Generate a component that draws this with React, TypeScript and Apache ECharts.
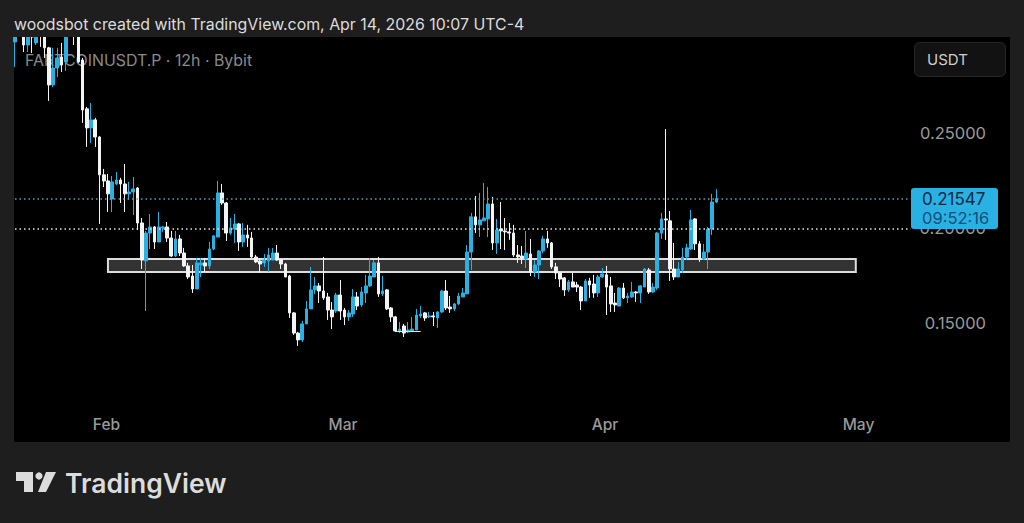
import React, { useRef, useEffect } from 'react'
import * as echarts from 'echarts'

// 12h candles, first one on 21 Jan
const opens = [
  0.2979, 0.303, 0.3016, 0.2963, 0.3016, 0.2974, 0.303, 0.3011, 0.2948, 0.2753,
  0.2842, 0.29, 0.2874, 0.305, 0.303, 0.3011, 0.2884, 0.2627, 0.2527, 0.2569,
  0.2479, 0.228, 0.2248, 0.2153, 0.2232, 0.2253, 0.2232, 0.218, 0.219, 0.2211,
  0.2027, 0.1827, 0.1974, 0.2006, 0.1927, 0.2001, 0.2006, 0.1948, 0.1853, 0.1943,
  0.1869, 0.1801, 0.1748, 0.168, 0.1806, 0.1817, 0.1801, 0.189, 0.1953, 0.2185,
  0.2132, 0.1974, 0.1995, 0.2022, 0.1927, 0.1964, 0.1948, 0.1848, 0.1827, 0.1817,
  0.1827, 0.1832, 0.1869, 0.1832, 0.1811, 0.1748, 0.1554, 0.1448, 0.1412, 0.1496,
  0.1575, 0.1675, 0.1696, 0.1669, 0.1638, 0.1569, 0.1564, 0.1648, 0.1569, 0.1533,
  0.1548, 0.1638, 0.1596, 0.1659, 0.1696, 0.1743, 0.1817, 0.1654, 0.1675, 0.158,
  0.1533, 0.1459, 0.1485, 0.1454, 0.1459, 0.1464, 0.1538, 0.1554, 0.1533, 0.1538,
  0.1527, 0.1559, 0.1669, 0.1585, 0.1575, 0.1601, 0.1638, 0.1654, 0.1874, 0.2059,
  0.2017, 0.2038, 0.2048, 0.2127, 0.1922, 0.1995, 0.1985, 0.198, 0.1974, 0.1859,
  0.1853, 0.1838, 0.1864, 0.1769, 0.1806, 0.188, 0.1943, 0.1922, 0.1796, 0.1764,
  0.1738, 0.1675, 0.1717, 0.1701, 0.169, 0.1617, 0.1722, 0.1706, 0.1659, 0.1743,
  0.1754, 0.1696, 0.1606, 0.159, 0.1685, 0.1633, 0.1638, 0.1664, 0.1659, 0.169,
  0.178, 0.1664, 0.1685, 0.1974, 0.2048, 0.2038, 0.1785, 0.1743, 0.178, 0.1848,
  0.189, 0.2048, 0.1917, 0.1838, 0.1874, 0.1995, 0.2137,
]
const closes = [
  0.3005, 0.306, 0.2963, 0.3005, 0.3005, 0.3005, 0.3016, 0.2948, 0.2753, 0.2842,
  0.2895, 0.2858, 0.3011, 0.306, 0.3016, 0.2874, 0.2621, 0.2527, 0.2569, 0.2479,
  0.228, 0.2248, 0.218, 0.2243, 0.2253, 0.2232, 0.218, 0.219, 0.2206, 0.2027,
  0.1832, 0.1974, 0.2006, 0.1927, 0.2006, 0.2006, 0.1948, 0.1853, 0.1943, 0.1869,
  0.1801, 0.1743, 0.168, 0.1817, 0.1817, 0.1801, 0.189, 0.1959, 0.2185, 0.2132,
  0.1974, 0.2001, 0.2022, 0.1927, 0.1964, 0.1948, 0.1848, 0.1822, 0.1811, 0.1832,
  0.1859, 0.1869, 0.1832, 0.1811, 0.1743, 0.1554, 0.1448, 0.1412, 0.1496, 0.1575,
  0.1675, 0.1696, 0.1669, 0.1633, 0.1569, 0.1533, 0.1648, 0.1564, 0.1533, 0.1554,
  0.1638, 0.159, 0.1664, 0.1696, 0.1748, 0.1817, 0.1654, 0.1669, 0.1575, 0.1533,
  0.1459, 0.1469, 0.1448, 0.1464, 0.1469, 0.1543, 0.1548, 0.1527, 0.1538, 0.1533,
  0.1559, 0.1669, 0.158, 0.1575, 0.1601, 0.1643, 0.1659, 0.1874, 0.2059, 0.2017,
  0.2043, 0.2053, 0.2127, 0.1922, 0.199, 0.1985, 0.198, 0.1974, 0.1859, 0.1848,
  0.1843, 0.1869, 0.1769, 0.1806, 0.188, 0.1943, 0.1922, 0.1796, 0.1764, 0.1732,
  0.1675, 0.1717, 0.169, 0.169, 0.1617, 0.1722, 0.1701, 0.1659, 0.1743, 0.1759,
  0.169, 0.1601, 0.1596, 0.1685, 0.1633, 0.1643, 0.1664, 0.1659, 0.1696, 0.1785,
  0.1664, 0.169, 0.1974, 0.2048, 0.2043, 0.1785, 0.1743, 0.1785, 0.1848, 0.1896,
  0.2043, 0.1917, 0.1838, 0.1874, 0.1995, 0.2137, 0.21547,
]
const lows = [
  0.2848, 0.3011, 0.2926, 0.2926, 0.2921, 0.2963, 0.2953, 0.2895, 0.2669, 0.2742,
  0.2795, 0.2821, 0.2827, 0.303, 0.2963, 0.2869, 0.2553, 0.2427, 0.2448, 0.2427,
  0.2022, 0.2216, 0.2085, 0.2085, 0.2227, 0.2132, 0.2085, 0.2148, 0.2069, 0.199,
  0.1785, 0.1564, 0.189, 0.189, 0.1927, 0.198, 0.1927, 0.1848, 0.1848, 0.1853,
  0.1796, 0.1732, 0.1659, 0.168, 0.1743, 0.1769, 0.1785, 0.1885, 0.1953, 0.2122,
  0.1932, 0.1964, 0.1922, 0.188, 0.1901, 0.1901, 0.1843, 0.1817, 0.1764, 0.1796,
  0.1769, 0.1832, 0.1827, 0.1785, 0.1743, 0.1527, 0.1438, 0.138, 0.1401, 0.1496,
  0.1575, 0.1654, 0.1606, 0.1622, 0.1517, 0.1469, 0.1554, 0.1517, 0.149, 0.1512,
  0.1533, 0.1569, 0.1585, 0.1606, 0.169, 0.1743, 0.1638, 0.1643, 0.1569, 0.1506,
  0.1454, 0.1448, 0.1427, 0.1448, 0.1454, 0.1464, 0.1527, 0.1512, 0.1527, 0.1485,
  0.1475, 0.1554, 0.1569, 0.1554, 0.1564, 0.1596, 0.1638, 0.1654, 0.178, 0.1974,
  0.1953, 0.2038, 0.1953, 0.1885, 0.1864, 0.189, 0.1885, 0.1938, 0.1848, 0.1817,
  0.1811, 0.179, 0.1748, 0.1743, 0.1732, 0.1869, 0.1896, 0.1785, 0.1732, 0.169,
  0.1643, 0.1664, 0.169, 0.1664, 0.1569, 0.1617, 0.1633, 0.1633, 0.1638, 0.1738,
  0.1543, 0.1559, 0.1559, 0.159, 0.1627, 0.1606, 0.1633, 0.1611, 0.1606, 0.169,
  0.1654, 0.1659, 0.1675, 0.1943, 0.1938, 0.1722, 0.1727, 0.1743, 0.1764, 0.1832,
  0.1885, 0.1885, 0.1822, 0.1832, 0.1785, 0.1964, 0.2132,
]
const highs = [
  0.3042, 0.308, 0.303, 0.3016, 0.303, 0.3016, 0.3042, 0.303, 0.2953, 0.2948,
  0.2948, 0.2974, 0.3042, 0.308, 0.3042, 0.303, 0.2895, 0.2637, 0.2658, 0.258,
  0.2484, 0.2311, 0.2285, 0.2274, 0.2295, 0.2264, 0.2337, 0.2243, 0.2269, 0.2216,
  0.2053, 0.1985, 0.2074, 0.2011, 0.2085, 0.2011, 0.2032, 0.1985, 0.1985, 0.1964,
  0.1896, 0.1817, 0.1806, 0.1843, 0.1843, 0.1843, 0.1927, 0.1964, 0.2248, 0.2232,
  0.2137, 0.2053, 0.2074, 0.2027, 0.2027, 0.2017, 0.198, 0.1859, 0.1843, 0.1864,
  0.1896, 0.1896, 0.1911, 0.1838, 0.1817, 0.1754, 0.1559, 0.1454, 0.1512, 0.1617,
  0.1796, 0.1743, 0.1711, 0.1848, 0.1659, 0.1611, 0.1659, 0.1727, 0.158, 0.1569,
  0.168, 0.1664, 0.169, 0.1754, 0.1843, 0.1832, 0.1848, 0.1748, 0.168, 0.1585,
  0.1538, 0.1506, 0.1496, 0.1506, 0.1533, 0.1575, 0.159, 0.1559, 0.1559, 0.1559,
  0.1564, 0.1675, 0.1727, 0.1643, 0.1606, 0.1659, 0.1685, 0.1911, 0.208, 0.2169,
  0.2185, 0.2237, 0.2216, 0.2164, 0.2048, 0.2137, 0.2053, 0.2027, 0.2017, 0.1911,
  0.1906, 0.1985, 0.1943, 0.1832, 0.1885, 0.1959, 0.1985, 0.1927, 0.1817, 0.1769,
  0.1743, 0.1727, 0.1764, 0.1717, 0.1696, 0.1732, 0.1738, 0.1754, 0.1754, 0.179,
  0.1801, 0.1743, 0.1659, 0.169, 0.1711, 0.1659, 0.1717, 0.1669, 0.1701, 0.179,
  0.179, 0.1711, 0.198, 0.208, 0.2521, 0.209, 0.1922, 0.1822, 0.1896, 0.1917,
  0.2095, 0.2053, 0.1932, 0.1917, 0.2006, 0.218, 0.2206,
]

const monthNames = ['Jan', 'Feb', 'Mar', 'Apr', 'May']
const priceTicks = [0.15, 0.2, 0.25]
const lastPrice = 0.21547
const levelPrice = 0.1995
const zoneTop = 0.1838
const zoneBottom = 0.1769
const zoneStart = 22
const zoneEnd = 198.6
const baseLow = 0.1459

// slots run on past the last candle, the axis is empty up to the right edge
const slotCount = 236
const categories: string[] = []
for (let i = 0; i < slotCount; i++) {
  const d = new Date(Date.UTC(2026, 0, 21, i * 12))
  categories.push(`${d.getUTCMonth()}-${d.getUTCDate()}-${d.getUTCHours()}`)
}
const isMonthStart = (value: string) => {
  const [, day, hour] = value.split('-')
  return day === '1' && hour === '0'
}

const BLUE = '#2ab1e4'
const WHITE = '#f4f4f4'
const PAGE = '#1e1e1e'
const SANS = 'Inter, "Liberation Sans", sans-serif'

function App() {
  const chartRef = useRef<HTMLDivElement>(null)

  useEffect(() => {
    const chart = echarts.init(chartRef.current, null, { renderer: 'svg' })

    const option = {
      animation: false,
      backgroundColor: PAGE,
      grid: { left: 12.9, right: 14, top: 37, bottom: 81 },
      xAxis: {
        type: 'category',
        data: categories,
        axisLine: { show: false },
        axisTick: { show: false },
        splitLine: { show: false },
        axisLabel: {
          inside: true,
          margin: 10,
          padding: [0, 3, 0, 0],
          color: '#9a9a9a',
          fontFamily: SANS,
          fontSize: 15.5,
          fontWeight: 500,
          interval: (_: number, value: string) => isMonthStart(value),
          formatter: (value: string) => monthNames[Number(value.split('-')[0])],
        },
      },
      yAxis: {
        type: 'value',
        position: 'right',
        min: 0.0875,
        max: 0.3005,
        axisLine: { show: false },
        axisTick: { show: false },
        splitLine: { show: false },
        axisLabel: {
          inside: true,
          margin: 24,
          color: '#9a9a9a',
          fontFamily: SANS,
          fontSize: 16.5,
          customValues: priceTicks,
          formatter: (v: number) => v.toFixed(5),
        },
      },
      series: [
        {
          type: 'line',
          data: [],
          z: 1,
          silent: true,
          markArea: {
            silent: true,
            itemStyle: { color: '#333333', borderColor: '#dddddd', borderWidth: 2 },
            data: [
              [
                { xAxis: zoneStart, yAxis: zoneTop },
                { xAxis: zoneEnd, yAxis: zoneBottom },
              ],
            ],
          },
          markLine: {
            silent: true,
            symbol: 'none',
            label: { show: false },
            data: [
              [
                { xAxis: 0, yAxis: lastPrice, lineStyle: { color: '#5f9fb8', width: 1.5, type: [1.5, 3] } },
                { xAxis: 212, yAxis: lastPrice },
              ],
              [
                { xAxis: 0, yAxis: levelPrice, lineStyle: { color: '#e8e8e8', width: 1.5, type: [1.5, 3] } },
                { xAxis: 212, yAxis: levelPrice },
              ],
              [
                { xAxis: 90, yAxis: baseLow, lineStyle: { color: '#e8e8e8', width: 1, type: 'solid' } },
                { xAxis: 96, yAxis: baseLow },
              ],
            ],
          },
        },
        {
          type: 'candlestick',
          barWidth: 3.2,
          data: opens.map((o, i) => [o, closes[i], lows[i], highs[i]]),
          itemStyle: {
            color: BLUE,
            color0: WHITE,
            borderColor: BLUE,
            borderColor0: WHITE,
            borderWidth: 1,
          },
        },
      ],
      graphic: [
        { type: 'rect', z: 0, silent: true, shape: { x: 14, y: 37, width: 996, height: 405 }, style: { fill: '#000000' } },
        // candles run off the top of the pane, this strip cuts them there
        { type: 'rect', z: 5, silent: true, shape: { x: 0, y: 0, width: 1024, height: 37 }, style: { fill: PAGE } },
        {
          type: 'text', z: 1, silent: true, x: 25, y: 60,
          style: { text: 'FARTCOINUSDT.P · 12h · Bybit', fill: '#8a8a8a', font: `15.9px ${SANS}`, verticalAlign: 'middle' },
        },
        {
          type: 'text', z: 10, silent: true, x: 14, y: 24,
          style: {
            text: 'woodsbot created with TradingView.com, Apr 14, 2026 10:07 UTC-4',
            fill: '#dcdcdc', font: `15.9px ${SANS}`, verticalAlign: 'middle',
          },
        },
        // currency button
        {
          type: 'rect', z: 10, silent: true,
          shape: { x: 914.5, y: 42.5, width: 91, height: 34, r: 5 },
          style: { fill: '#121212', stroke: '#262626', lineWidth: 1 },
        },
        {
          type: 'text', z: 11, silent: true, x: 927, y: 59,
          style: { text: 'USDT', fill: '#cfcfcf', font: `15px ${SANS}`, verticalAlign: 'middle' },
        },
        // last price tag, it sits on top of the 0.20000 label
        {
          type: 'rect', z: 10, silent: true,
          shape: { x: 911, y: 188, width: 87, height: 41, r: 3 },
          style: { fill: BLUE },
        },
        {
          type: 'text', z: 11, silent: true, x: 922, y: 199,
          style: { text: lastPrice.toFixed(5), fill: '#0c2a44', font: `17px ${SANS}`, verticalAlign: 'middle' },
        },
        {
          type: 'text', z: 11, silent: true, x: 922, y: 218,
          style: { text: '09:52:16', fill: '#0f4f78', font: `16.5px ${SANS}`, verticalAlign: 'middle' },
        },
        // TradingView logo
        {
          type: 'polygon', z: 10, silent: true,
          shape: { points: [[16, 472], [33, 472], [33, 492], [24, 492], [24, 481], [16, 481]] },
          style: { fill: '#dcdcdc' },
        },
        { type: 'circle', z: 10, silent: true, shape: { cx: 39, cy: 476, r: 3.6 }, style: { fill: '#dcdcdc' } },
        {
          type: 'polygon', z: 10, silent: true,
          shape: { points: [[46, 472], [56, 472], [46, 492], [38, 492]] },
          style: { fill: '#dcdcdc' },
        },
        {
          type: 'text', z: 10, silent: true, x: 65, y: 483,
          style: { text: 'TradingView', fill: '#dcdcdc', font: `600 26.5px ${SANS}`, verticalAlign: 'middle' },
        },
      ],
    }

    chart.setOption(option)

    return () => {
      chart.dispose()
    }
  }, [])

  return <div ref={chartRef} style={{ position: 'fixed', left: 0, top: 0, width: 1024, height: 523 }}></div>
}

export default App
